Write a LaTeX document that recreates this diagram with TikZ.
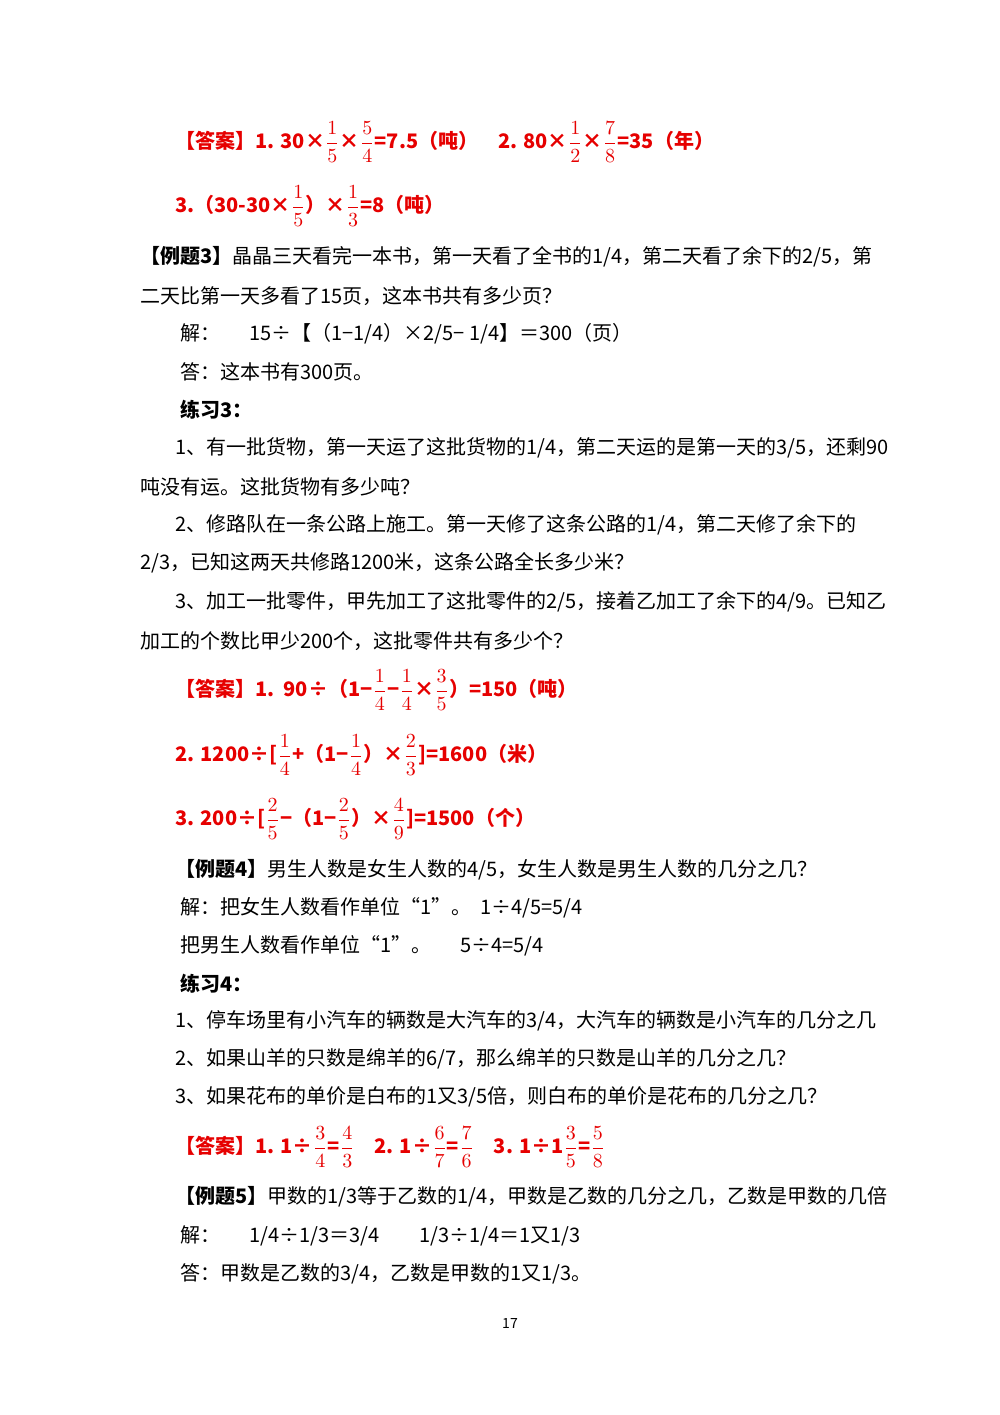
\documentclass[tikz,border=0pt]{standalone}
\usepackage{fontspec}
\setmainfont{Noto Sans CJK SC}
\definecolor{ans}{RGB}{230,0,0}
\newcommand{\fr}[2]{$\displaystyle\frac{#1}{#2}$}
\begin{document}
\begin{tikzpicture}[x=0.5pt,y=-0.5pt,
  t/.style={anchor=west,inner sep=0pt,font=\fontsize{10}{12}\selectfont},
  a/.style={t,text=ans,font=\fontsize{10}{12}\selectfont\bfseries}]
\useasboundingbox[fill=white] (0,0) rectangle (1000,1415);
\node[a] (l1) at (175,142) {【答案】1. 30×\fr15×\fr54=7.5（吨）\quad 2. 80×\fr12×\fr78=35（年）};
\node[a] (l2) at (175,206) {3.（30-30×\fr15）×\fr13=8（吨）};
\node[t] (l3) at (140,257) {\textbf{【例题3】}晶晶三天看完一本书，第一天看了全书的1/4，第二天看了余下的2/5，第};
\node[t] (l4) at (140,296) {二天比第一天多看了15页，这本书共有多少页？};
\node[t] (l5) at (180,334) {解：\quad\ \ 15÷【（1−1/4）×2/5− 1/4】＝300（页）};
\node[t] (l6) at (180,372) {答：这本书有300页。};
\node[t] (l7) at (180,410) {\textbf{练习3：}};
\node[t] (l8) at (175,448) {1、有一批货物，第一天运了这批货物的1/4，第二天运的是第一天的3/5，还剩90};
\node[t] (l9) at (140,487) {吨没有运。这批货物有多少吨？};
\node[t] (l10) at (175,525) {2、修路队在一条公路上施工。第一天修了这条公路的1/4，第二天修了余下的};
\node[t] (l11) at (140,563) {2/3，已知这两天共修路1200米，这条公路全长多少米？};
\node[t] (l12) at (175,602) {3、加工一批零件，甲先加工了这批零件的2/5，接着乙加工了余下的4/9。已知乙};
\node[t] (l13) at (140,641) {加工的个数比甲少200个，这批零件共有多少个？};
\node[a] (l14) at (175,690) {【答案】1.\ \ 90÷（1−\fr14−\fr14×\fr35）=150（吨）};
\node[a] (l15) at (175,755) {2. 1200÷[\fr14+（1−\fr14）×\fr23]=1600（米）};
\node[a] (l16) at (175,819) {3. 200÷[\fr25−（1−\fr25）×\fr49]=1500（个）};
\node[t] (l17) at (175,870) {\textbf{【例题4】}男生人数是女生人数的4/5，女生人数是男生人数的几分之几？};
\node[t] (l18) at (180,908) {解：把女生人数看作单位“1”。\ \ 1÷4/5=5/4};
\node[t] (l19) at (180,946) {把男生人数看作单位“1”。\quad\ \ 5÷4=5/4};
\node[t] (l20) at (180,984) {\textbf{练习4：}};
\node[t] (l21) at (175,1021) {1、停车场里有小汽车的辆数是大汽车的3/4，大汽车的辆数是小汽车的几分之几};
\node[t] (l22) at (175,1059) {2、如果山羊的只数是绵羊的6/7，那么绵羊的只数是山羊的几分之几？};
\node[t] (l23) at (175,1097) {3、如果花布的单价是白布的1又3/5倍，则白布的单价是花布的几分之几？};
\node[a] (l24) at (175,1147) {【答案】1. 1÷\fr34=\fr43\quad 2. 1÷\fr67=\fr76\quad 3. 1÷1\fr35=\fr58};
\node[t] (l25) at (175,1197) {\textbf{【例题5】}甲数的1/3等于乙数的1/4，甲数是乙数的几分之几，乙数是甲数的几倍};
\node[t] (l26) at (180,1236) {解：\quad\ \ 1/4÷1/3＝3/4\qquad 1/3÷1/4＝1又1/3};
\node[t] (l27) at (180,1274) {答：甲数是乙数的3/4，乙数是甲数的1又1/3。};
\node[t,anchor=center,font=\fontsize{7}{8}\selectfont] (pg) at (510,1323) {17};
\end{tikzpicture}
\end{document}
